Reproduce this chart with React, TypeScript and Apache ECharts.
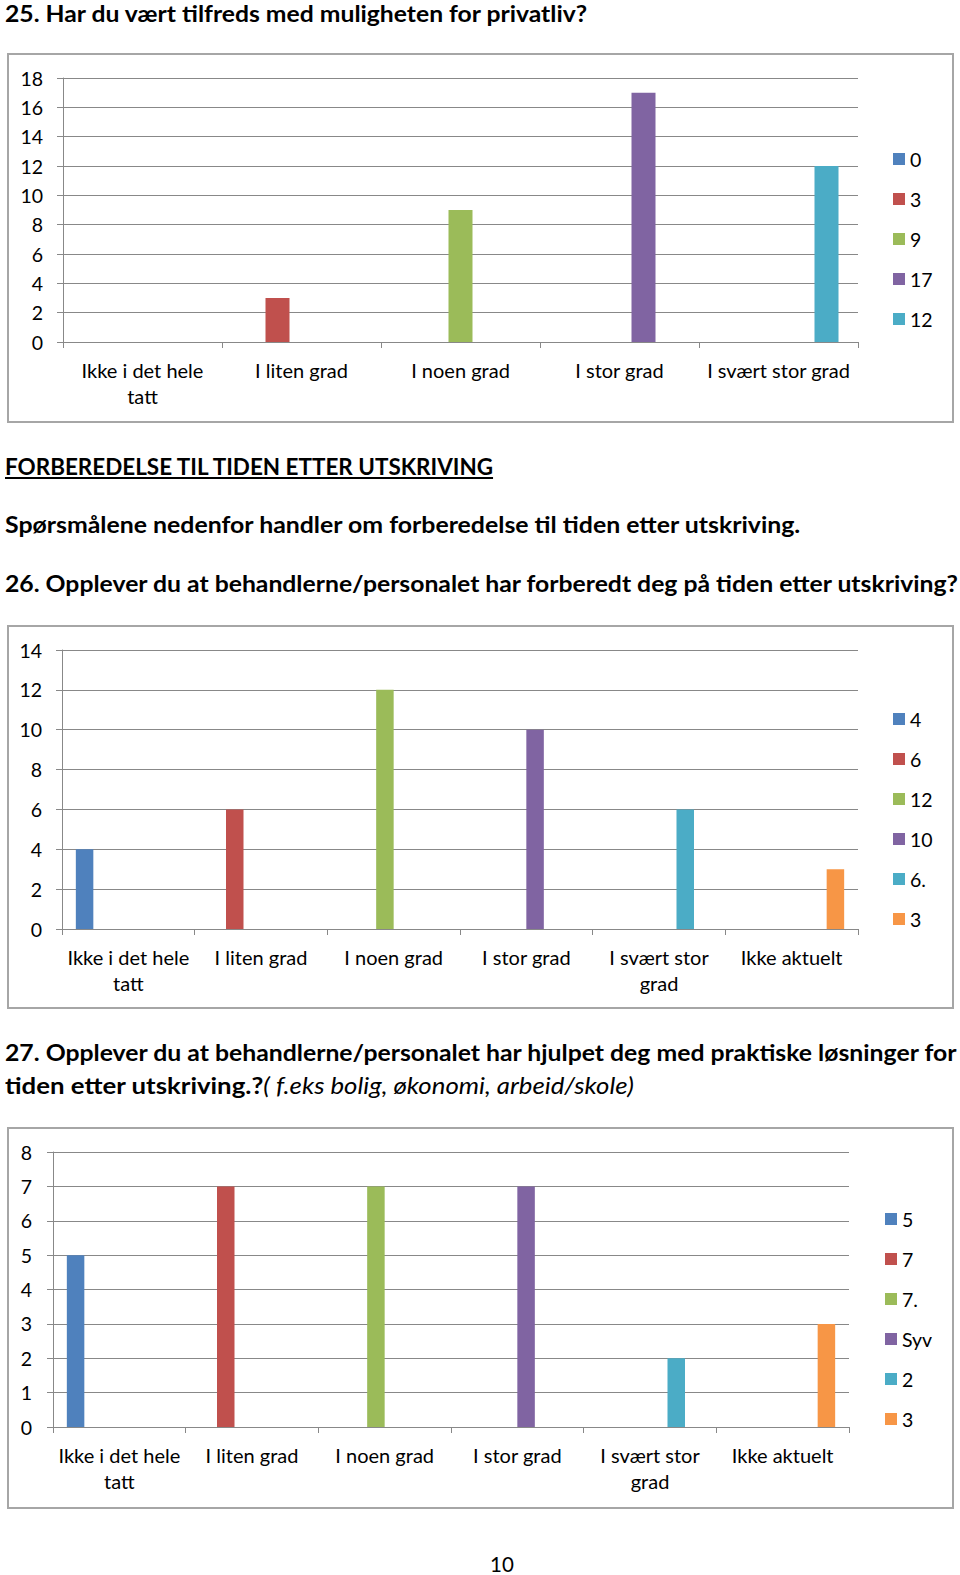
import React, { useEffect, useLayoutEffect, useRef, useState } from "react";
import * as echarts from "echarts";

const FONT = "Lato, 'Noto Sans', sans-serif";
const COLORS = ["#4F81BD", "#C0504D", "#9BBB59", "#8064A2", "#4BACC6", "#F79646"];
const GRID_COLOR = "#888888";
const BORDER_COLOR = "#A6A6A6";

// Chart 25
const q25Categories = ["Ikke i det hele tatt", "I liten grad", "I noen grad", "I stor grad", "I svært stor grad"];
const q25Values = [0, 3, 9, 17, 12];
const q25Legend = ["0", "3", "9", "17", "12"];
const q25Wrap = ["Ikke i det hele tatt"];
const q25YMax = 18;
const q25YInterval = 2;

// Chart 26
const q26Categories = ["Ikke i det hele tatt", "I liten grad", "I noen grad", "I stor grad", "I svært stor grad", "Ikke aktuelt"];
const q26Values = [4, 6, 12, 10, 6, 3];
const q26Legend = ["4", "6", "12", "10", "6.", "3"];
const q26Wrap = ["Ikke i det hele tatt", "I svært stor grad"];
const q26YMax = 14;
const q26YInterval = 2;

// Chart 27
const q27Categories = ["Ikke i det hele tatt", "I liten grad", "I noen grad", "I stor grad", "I svært stor grad", "Ikke aktuelt"];
const q27Values = [5, 7, 7, 7, 2, 3];
const q27Legend = ["5", "7", "7.", "Syv", "2", "3"];
const q27Wrap = ["Ikke i det hele tatt", "I svært stor grad"];
const q27YMax = 8;
const q27YInterval = 1;

function wrapLabel(label: string, wrapList: string[]) {
  if (!wrapList.includes(label)) return label;
  const i = label.lastIndexOf(" ");
  return label.slice(0, i) + "\n" + label.slice(i + 1);
}

type ChartProps = {
  box: { left: number; top: number; width: number; height: number };
  grid: { left: number; right: number; top: number; bottom: number };
  categories: string[];
  values: number[];
  legendNames: string[];
  wrap: string[];
  yMax: number;
  yInterval: number;
  legendPos: { left: number; top: number };
  barWidth: number;
  yLabelMargin: number;
};

function BarChart(p: ChartProps) {
  const ref = useRef<HTMLDivElement>(null);
  useEffect(() => {
    if (!ref.current) return;
    const chart = echarts.init(ref.current, undefined, { renderer: "svg" });
    const series = p.values.map((v, i) => ({
      name: p.legendNames[i],
      type: "bar",
      barWidth: p.barWidth,
      barGap: "0%",
      itemStyle: { color: COLORS[i] },
      data: p.categories.map((_, j) => (j === i ? v : null)),
    }));
    chart.setOption({
      animation: false,
      textStyle: { fontFamily: FONT },
      graphic: [
        {
          type: "rect",
          shape: { x: 1, y: 1, width: p.box.width - 2, height: p.box.height - 2 },
          style: { fill: "none", stroke: BORDER_COLOR, lineWidth: 2 },
          silent: true,
        },
      ],
      grid: { ...p.grid, containLabel: false },
      legend: {
        orient: "vertical",
        left: p.legendPos.left,
        top: p.legendPos.top,
        padding: 0,
        icon: "rect",
        itemWidth: 12,
        itemHeight: 12,
        itemGap: 20,
        textStyle: { fontSize: 19.5, lineHeight: 20, color: "#000", fontFamily: FONT },
        data: p.legendNames,
      },
      xAxis: {
        type: "category",
        data: p.categories,
        axisLine: { lineStyle: { color: GRID_COLOR, width: 1 } },
        axisTick: { show: true, length: 6, lineStyle: { color: GRID_COLOR } },
        axisLabel: {
          interval: 0,
          margin: 15,
          fontSize: 20,
          lineHeight: 26,
          color: "#000",
          fontFamily: FONT,
          formatter: (v: string) => wrapLabel(v, p.wrap),
        },
      },
      yAxis: {
        type: "value",
        min: 0,
        max: p.yMax,
        interval: p.yInterval,
        axisLine: { show: true, lineStyle: { color: GRID_COLOR, width: 1 } },
        axisTick: { show: true, length: 6, lineStyle: { color: GRID_COLOR } },
        splitLine: { lineStyle: { color: GRID_COLOR, width: 1 } },
        axisLabel: { margin: p.yLabelMargin, fontSize: 19.5, color: "#000", fontFamily: FONT },
      },
      series,
    });
    return () => chart.dispose();
  }, []);
  return (
    <div
      ref={ref}
      style={{ position: "absolute", left: p.box.left, top: p.box.top, width: p.box.width, height: p.box.height }}
    />
  );
}

function FitText(props: {
  left: number;
  centerY: number;
  width?: number;
  fontSize: number;
  bold?: boolean;
  underline?: boolean;
  children: React.ReactNode;
}) {
  const ref = useRef<HTMLSpanElement>(null);
  const [scale, setScale] = useState(1);
  useLayoutEffect(() => {
    if (props.width && ref.current) {
      const w = ref.current.offsetWidth;
      if (w) setScale(props.width / w);
    }
  }, []);
  const lh = 28;
  return (
    <div
      style={{
        position: "absolute",
        left: props.left,
        top: props.centerY - lh / 2,
        lineHeight: lh + "px",
        fontSize: props.fontSize,
        fontFamily: FONT,
        fontWeight: props.bold ? 700 : 400,
        whiteSpace: "nowrap",
        color: "#000",
        transform: `scaleX(${scale})`,
        transformOrigin: "left top",
        textDecoration: props.underline ? "underline" : "none",
      }}
    >
      <span ref={ref}>{props.children}</span>
    </div>
  );
}

export default function App() {
  return (
    <div style={{ position: "absolute", left: 0, top: 0, width: 960, height: 1575, background: "#fff", overflow: "hidden" }}>
      <FitText left={5} centerY={14} width={582} fontSize={22.5} bold>
        25. Har du vært tilfreds med muligheten for privatliv?
      </FitText>
      <BarChart
        box={{ left: 7, top: 53, width: 947, height: 370 }}
        grid={{ left: 56, right: 96, top: 25, bottom: 81 }}
        categories={q25Categories}
        values={q25Values}
        legendNames={q25Legend}
        wrap={q25Wrap}
        yMax={q25YMax}
        yInterval={q25YInterval}
        legendPos={{ left: 886, top: 96 }}
        barWidth={24}
        yLabelMargin={20}
      />
      <FitText left={5} centerY={467} width={488} fontSize={22.5} bold underline>
        FORBEREDELSE TIL TIDEN ETTER UTSKRIVING
      </FitText>
      <FitText left={5} centerY={525} width={795} fontSize={22.5} bold>
        Spørsmålene nedenfor handler om forberedelse til tiden etter utskriving.
      </FitText>
      <FitText left={5} centerY={584} width={953} fontSize={22.5} bold>
        26. Opplever du at behandlerne/personalet har forberedt deg på tiden etter utskriving?
      </FitText>
      <BarChart
        box={{ left: 7, top: 625, width: 947, height: 384 }}
        grid={{ left: 55, right: 96, top: 25, bottom: 80 }}
        categories={q26Categories}
        values={q26Values}
        legendNames={q26Legend}
        wrap={q26Wrap}
        yMax={q26YMax}
        yInterval={q26YInterval}
        legendPos={{ left: 886, top: 84 }}
        barWidth={17.5}
        yLabelMargin={20}
      />
      <FitText left={5} centerY={1053} width={951} fontSize={22.5} bold>
        27. Opplever du at behandlerne/personalet har hjulpet deg med praktiske løsninger for
      </FitText>
      <FitText left={5} centerY={1086} width={629} fontSize={22.5}>
        <b>tiden etter utskriving.?</b>
        <i>( f.eks bolig, økonomi, arbeid/skole)</i>
      </FitText>
      <BarChart
        box={{ left: 7, top: 1127, width: 947, height: 382 }}
        grid={{ left: 46, right: 105, top: 25, bottom: 82 }}
        categories={q27Categories}
        values={q27Values}
        legendNames={q27Legend}
        wrap={q27Wrap}
        yMax={q27YMax}
        yInterval={q27YInterval}
        legendPos={{ left: 878, top: 82 }}
        barWidth={17.5}
        yLabelMargin={21}
      />
      <FitText left={490} centerY={1564} fontSize={20.5}>
        10
      </FitText>
    </div>
  );
}
